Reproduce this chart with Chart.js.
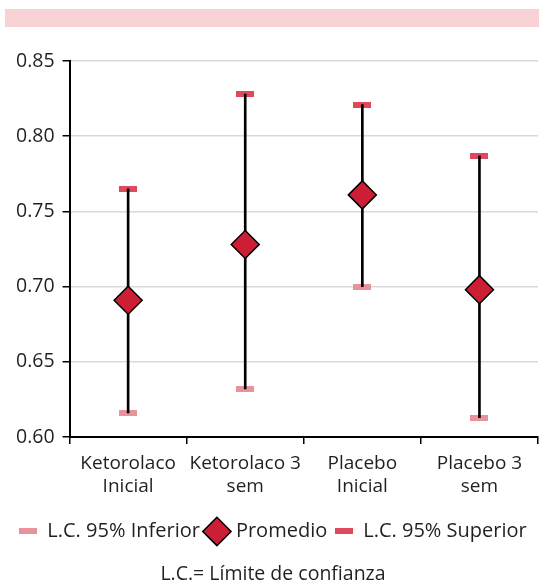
<!DOCTYPE html>
<html>
<head>
<meta charset="utf-8">
<script src="https://cdn.jsdelivr.net/npm/chart.js@4.4.1/dist/chart.umd.min.js"></script>
<style>
  html, body { margin: 0; padding: 0; background: #fff; }
  #wrap { position: relative; width: 539px; height: 584px; }
  #band { position: absolute; left: 5px; top: 9px; width: 534px; height: 18px; background: #f9d2d6; }
</style>
</head>
<body>
<div id="wrap">
  <div id="band"></div>
  <canvas id="chart" width="539" height="584"></canvas>
</div>
<script>
// DATA
const categories = [['Ketorolaco', 'Inicial'], ['Ketorolaco 3', 'sem'], ['Placebo', 'Inicial'], ['Placebo 3', 'sem']];
const lowerCI    = [0.616, 0.632, 0.700, 0.613];
const meanVal    = [0.691, 0.728, 0.761, 0.698];
const upperCI    = [0.765, 0.828, 0.821, 0.787];
const yMin = 0.60, yMax = 0.85, yStep = 0.05;

const textColor = '#231f20';
const fontFam   = "'Open Sans', sans-serif";

// small filled rectangles used as cap markers (chart + legend)
function capMark(color) {
  const c = document.createElement('canvas');
  c.width = 18; c.height = 6;
  const g = c.getContext('2d');
  g.fillStyle = color;
  g.fillRect(0, 0, 18, 6);
  return c;
}
const lowCap  = capMark('#e8929b');
const highCap = capMark('#dc4a5c');

Chart.defaults.font.family = fontFam;
Chart.defaults.color = textColor;

new Chart(document.getElementById('chart'), {
  type: 'bar',
  data: {
    labels: categories,
    datasets: [
      { type: 'line', label: 'L.C. 95% Inferior', data: lowerCI, showLine: false,
        pointStyle: lowCap, pointRadius: 9, order: 3 },
      { type: 'line', label: 'Promedio', data: meanVal, showLine: false,
        pointStyle: 'rectRot', pointRadius: 14, pointBackgroundColor: '#cc1f36',
        pointBorderColor: '#000', pointBorderWidth: 1.5,
        backgroundColor: '#cc1f36', borderColor: '#000', borderWidth: 1.5, order: 0 },
      { type: 'line', label: 'L.C. 95% Superior', data: upperCI, showLine: false,
        pointStyle: highCap, pointRadius: 9, order: 3 },
      { type: 'bar', label: 'range', data: categories.map((_, i) => [lowerCI[i], upperCI[i]]),
        backgroundColor: '#000', barThickness: 2, order: 2 }
    ]
  },
  options: {
    responsive: false,
    animation: false,
    layout: { autoPadding: false, padding: { top: 61, right: 1, left: 8, bottom: 0 } },
    plugins: {
      tooltip: { enabled: false },
      legend: {
        position: 'bottom',
        labels: {
          usePointStyle: true, padding: 8, boxWidth: 18, color: textColor,
          font: { size: 20 },
          filter: item => item.text !== 'range',
          sort: (a, b) => a.datasetIndex - b.datasetIndex
        }
      },
      title: {
        display: true, position: 'bottom', text: 'L.C.= Límite de confianza',
        color: textColor, font: { size: 19.5, weight: 'normal', lineHeight: 0.95 },
        padding: { top: 14, bottom: 0 }
      }
    },
    scales: {
      x: {
        grid: { offset: true, drawOnChartArea: false, color: '#000', tickLength: 7, lineWidth: 1.5 },
        border: { color: '#000', width: 2 },
        ticks: { color: textColor, font: { size: 19, lineHeight: 1.22 }, padding: 8, maxRotation: 0 },
        afterFit: s => { s.height += 7; }
      },
      y: {
        min: yMin, max: yMax,
        grid: { color: '#d9d9d9', lineWidth: 1.5, tickColor: '#000', tickLength: 7 },
        border: { color: '#000', width: 2 },
        ticks: { stepSize: yStep, color: textColor, font: { size: 19.5 }, padding: 8,
                 callback: v => v.toFixed(2) }
      }
    }
  }
});
</script>
</body>
</html>
